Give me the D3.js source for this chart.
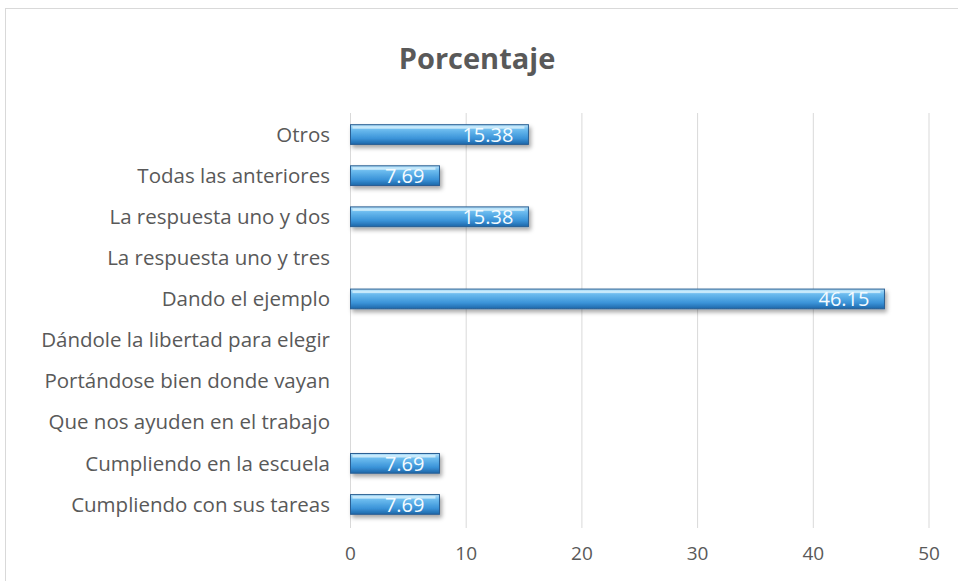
<!DOCTYPE html>
<html>
<head>
<meta charset="utf-8">
<script src="https://cdn.jsdelivr.net/npm/d3@7"></script>
<style>
  body { margin: 0; background: #fff; }
  svg { display: block; font-family: "Open Sans", "Noto Sans", sans-serif; }
</style>
</head>
<body>
<svg width="958" height="581"></svg>
<script>
const categories = [
  'Otros',
  'Todas las anteriores',
  'La respuesta uno y dos',
  'La respuesta uno y tres',
  'Dando el ejemplo',
  'Dándole la libertad para elegir',
  'Portándose bien donde vayan',
  'Que nos ayuden en el trabajo',
  'Cumpliendo en la escuela',
  'Cumpliendo con sus tareas'
];
const values = [15.38, 7.69, 15.38, 0, 46.15, 0, 0, 0, 7.69, 7.69];
const xTicks = [0, 10, 20, 30, 40, 50];

const data = categories.map((c, i) => ({ cat: c, val: values[i] }));

const svg = d3.select('svg');

// chart frame
svg.append('rect')
  .attr('x', 5.5).attr('y', 8.5)
  .attr('width', 970).attr('height', 600)
  .attr('fill', 'none')
  .attr('stroke', '#d9d9d9');

svg.append('text')
  .attr('x', 477).attr('y', 69)
  .attr('text-anchor', 'middle')
  .attr('font-size', 29)
  .attr('font-weight', 'bold')
  .attr('fill', '#595959')
  .text('Porcentaje');

const x = d3.scaleLinear()
  .domain([0, 50])
  .range([350.5, 929]);

const y = d3.scaleBand()
  .domain(categories)
  .range([114, 525])
  .paddingInner(0.52)
  .paddingOuter(0.26);

const defs = svg.append('defs');
const grad = defs.append('linearGradient')
  .attr('id', 'barGrad')
  .attr('x1', 0).attr('y1', 0).attr('x2', 0).attr('y2', 1);
grad.append('stop').attr('offset', '0%').attr('stop-color', '#b7e2fa');
grad.append('stop').attr('offset', '25%').attr('stop-color', '#6cbcef');
grad.append('stop').attr('offset', '70%').attr('stop-color', '#3a93d8');
grad.append('stop').attr('offset', '100%').attr('stop-color', '#1e66a8');

const shadow = defs.append('filter')
  .attr('id', 'shadow')
  .attr('x', '-10%').attr('y', '-30%')
  .attr('width', '130%').attr('height', '180%');
shadow.append('feDropShadow')
  .attr('dx', 2).attr('dy', 3)
  .attr('stdDeviation', 2)
  .attr('flood-color', '#000')
  .attr('flood-opacity', 0.35);

// gridlines
svg.append('g')
  .selectAll('line')
  .data(xTicks)
  .enter()
  .append('line')
  .attr('x1', d => x(d)).attr('x2', d => x(d))
  .attr('y1', 113).attr('y2', 528)
  .attr('stroke', '#d9d9d9')
  .attr('stroke-width', 1);

// x tick labels
svg.append('g')
  .selectAll('text')
  .data(xTicks)
  .enter()
  .append('text')
  .attr('x', d => x(d))
  .attr('y', 560)
  .attr('text-anchor', 'middle')
  .attr('font-size', 19)
  .attr('fill', '#595959')
  .text(d => d);

// category labels
svg.append('g')
  .selectAll('text')
  .data(data)
  .enter()
  .append('text')
  .attr('x', 330)
  .attr('y', d => y(d.cat) + y.bandwidth() / 2)
  .attr('dy', '0.35em')
  .attr('text-anchor', 'end')
  .attr('font-size', 20.5)
  .attr('fill', '#595959')
  .text(d => d.cat);

// bars
const bars = svg.append('g')
  .selectAll('g')
  .data(data.filter(d => d.val > 0))
  .enter()
  .append('g');

bars.append('rect')
  .attr('x', x(0))
  .attr('y', d => y(d.cat))
  .attr('width', d => x(d.val) - x(0))
  .attr('height', y.bandwidth())
  .attr('fill', 'url(#barGrad)')
  .attr('stroke', '#2a5f93')
  .attr('stroke-width', 1)
  .attr('filter', 'url(#shadow)');

// bevel highlight on top edge
bars.append('rect')
  .attr('x', x(0) + 2)
  .attr('y', d => y(d.cat) + 1.5)
  .attr('width', d => Math.max(0, x(d.val) - x(0) - 6))
  .attr('height', 2.5)
  .attr('fill', '#d6f0fd')
  .attr('opacity', 0.8);

// value labels
bars.append('text')
  .attr('x', d => x(d.val) - 15)
  .attr('y', d => y(d.cat) + y.bandwidth() / 2)
  .attr('dy', '0.37em')
  .attr('text-anchor', 'end')
  .attr('font-size', 20)
  .attr('fill', '#f4fbff')
  .text(d => d.val.toFixed(2));
</script>
</body>
</html>
